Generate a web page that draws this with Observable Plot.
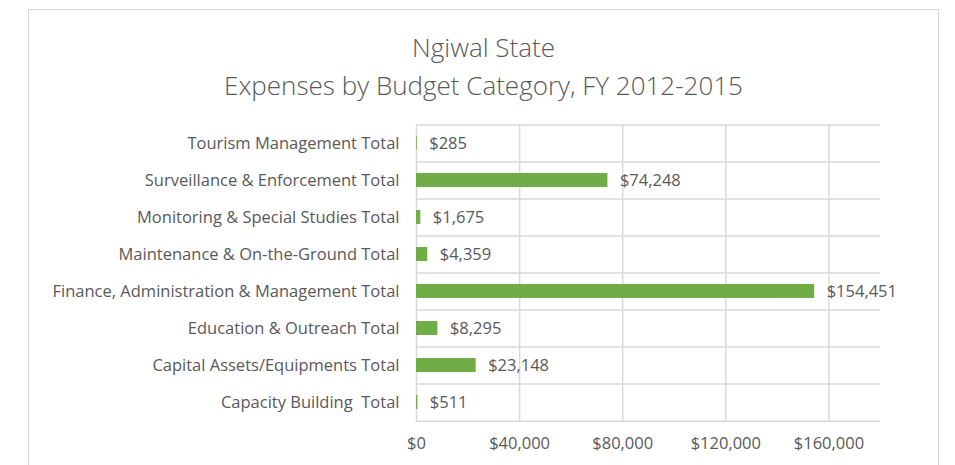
<!DOCTYPE html>
<html><head><meta charset="utf-8">
<script src="https://cdn.jsdelivr.net/npm/d3@7"></script>
<script src="https://cdn.jsdelivr.net/npm/@observablehq/plot@0.6"></script>
<style>
body{margin:0;background:#fff;}
#wrap{position:relative;width:955px;height:465px;overflow:hidden;font-family:"Open Sans",sans-serif;}
#frame{position:absolute;left:28px;top:9px;width:911px;height:480px;border:1.5px solid #d9d9d9;box-sizing:border-box}
#title{position:absolute;left:28px;width:911px;top:28px;text-align:center;color:#595959;font-size:26px;font-weight:300;line-height:38px;}
#chart{position:absolute;left:0;top:0}
#chart svg text{white-space:pre}
</style></head>
<body>
<div id="wrap">
  <div id="frame"></div>
  <div id="title"><div>Ngiwal State</div><div>Expenses by Budget Category, FY 2012-2015</div></div>
  <div id="chart"></div>
</div>
<script>
const categories = [
  "Tourism Management Total",
  "Surveillance & Enforcement Total",
  "Monitoring & Special Studies Total",
  "Maintenance & On-the-Ground Total",
  "Finance, Administration & Management Total",
  "Education & Outreach Total",
  "Capital Assets/Equipments Total",
  "Capacity Building  Total"
];
const values = [285, 74248, 1675, 4359, 154451, 8295, 23148, 511];
const xTicks = [0, 40000, 80000, 120000, 160000];
const xMax = 180000;

const data = categories.map((c, i) => ({cat: c, value: values[i]}));
const fmt = d3.format(",");
const money = v => "$" + fmt(v);

const W = 955, H = 465, mT = 124, mB = 43, mL = 416, mR = 75;
const step = (H - mT - mB) / categories.length;
const grid = "#d9d9d9";

const chart = Plot.plot({
  width: W, height: H,
  marginTop: mT, marginBottom: mB, marginLeft: mL, marginRight: mR,
  style: {fontFamily: "'Open Sans', sans-serif", fontSize: "16.5px", color: "#595959", background: "transparent", overflow: "visible"},
  x: {domain: [0, xMax], ticks: xTicks, tickFormat: money, tickSize: 0, tickPadding: 15, label: null},
  y: {domain: categories, paddingInner: 0.62, paddingOuter: 0.31, tickSize: 0, tickPadding: 17, label: null},
  marks: [
    Plot.ruleX(xTicks, {x: d => d, stroke: grid, strokeWidth: 1.5}),
    Plot.ruleY(categories, {y: d => d, x1: 0, x2: xMax, dy: -step / 2, stroke: grid, strokeWidth: 1.5}),
    Plot.ruleY([categories[categories.length - 1]], {y: d => d, x1: 0, x2: xMax, dy: step / 2, stroke: grid, strokeWidth: 1.5}),
    Plot.barX(data, {x: "value", y: "cat", fill: "#70ad47"}),
    Plot.text(data, {x: "value", y: "cat", text: d => money(d.value), textAnchor: "start", dx: 12, fill: "#595959", fontSize: 16.5}),
    Plot.axisX({ticks: xTicks, tickFormat: money, tickSize: 0, tickPadding: 15, label: null, fontSize: 16.5}),
    Plot.axisY({tickSize: 0, tickPadding: 17, label: null, fontSize: 16.5})
  ]
});
document.getElementById("chart").appendChild(chart);
</script>
</body></html>
